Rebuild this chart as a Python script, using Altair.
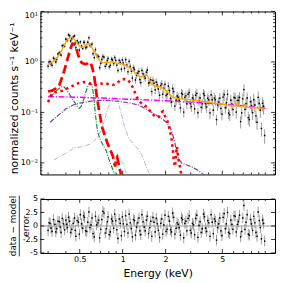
import altair as alt
import pandas as pd

# ---------------- data ----------------
# spectrum bins, set A
energy = [0.300, 0.310, 0.320, 0.335, 0.345, 0.360, 0.370, 0.385, 0.400, 0.410,
          0.425, 0.440, 0.460, 0.470, 0.490, 0.505, 0.525, 0.540, 0.560, 0.580,
          0.600, 0.620, 0.645, 0.670, 0.690, 0.715, 0.740, 0.770, 0.790, 0.820,
          0.850, 0.880, 0.910, 0.945, 0.980, 1.010, 1.050, 1.090, 1.130, 1.170,
          1.210, 1.250, 1.300, 1.340, 1.390, 1.440, 1.490, 1.550, 1.600, 1.660,
          1.720, 1.780, 1.850, 1.910, 1.980, 2.050, 2.130, 2.200, 2.280, 2.370,
          2.450, 2.540, 2.630, 2.730, 2.820, 2.930, 3.030, 3.140, 3.250, 3.370,
          3.490, 3.620, 3.750, 3.880, 4.020, 4.170, 4.320, 4.470, 4.630, 4.800,
          4.970, 5.150, 5.340, 5.530, 5.730, 5.930, 6.150, 6.370, 6.600, 6.830,
          7.080, 7.330, 7.600, 7.870, 8.150, 8.450, 8.750, 9.070, 9.390, 9.730]

counts = [0.83, 1.01, 0.86, 1.14, 1.13, 1.53, 1.37, 2.10, 2.83, 2.70,
          3.32, 2.88, 3.30, 1.93, 2.38, 2.50, 1.86, 2.44, 1.98, 3.02,
          2.15, 1.46, 1.76, 1.29, 0.77, 1.12, 1.25, 0.91, 1.18, 0.86,
          1.10, 1.23, 0.87, 1.08, 0.72, 0.95, 1.11, 0.64, 0.82, 0.48,
          0.71, 0.55, 0.65, 0.39, 0.58, 0.48, 0.69, 0.40, 0.26, 0.38,
          0.40, 0.29, 0.34, 0.23, 0.36, 0.23, 0.27, 0.16, 0.26, 0.175,
          0.20, 0.123, 0.228, 0.20, 0.148, 0.247, 0.131, 0.182, 0.22, 0.099,
          0.194, 0.149, 0.218, 0.129, 0.178, 0.223, 0.111, 0.179, 0.141, 0.192,
          0.093, 0.225, 0.155, 0.097, 0.175, 0.115, 0.193, 0.172, 0.198, 0.098,
          0.283, 0.150, 0.079, 0.163, 0.099, 0.141, 0.064, 0.151, 0.048, 0.133]

residuals = [-0.8, 0.5, -1.0, 0.3, -0.5, 0.8, -1.2, 0.4, 1.1, -0.3,
             0.9, -0.6, 1.5, -1.9, 0.7, 2.1, -0.4, 1.6, -1.0, 2.6,
             0.2, -1.4, 1.8, 0.6, -2.2, 1.2, 2.4, -0.5, 1.7, -1.1,
             0.9, 2.2, -0.7, 1.3, -1.8, 0.4, 1.9, -1.3, 0.6, -2.0,
             1.0, -0.2, 1.5, -1.6, 0.8, -0.9, 1.8, -0.3, -1.9, 0.7,
             1.4, -0.8, 0.5, -1.5, 2.0, -0.6, 0.9, -1.1, 1.6, -0.4,
             0.3, -1.7, 1.2, 0.5, -0.9, 1.9, -1.3, 0.2, 1.4, -2.1,
             0.8, -0.5, 1.7, -1.0, 0.6, 2.1, -1.4, 0.9, -0.3, 1.5,
             -1.8, 2.3, 0.4, -1.2, 1.1, -0.6, 1.8, 0.3, 2.0, -1.0,
             3.8, 0.7, -1.5, 1.2, -0.8, 0.6, -1.9, 1.0, -2.4, 0.5]

# spectrum bins, set B (the bins lying between those of set A)
energy_b = [0.305, 0.315, 0.327, 0.340, 0.352, 0.365, 0.377, 0.392, 0.405, 0.417,
            0.432, 0.450, 0.465, 0.480, 0.497, 0.515, 0.532, 0.550, 0.570, 0.590,
            0.610, 0.632, 0.657, 0.680, 0.702, 0.727, 0.755, 0.780, 0.805, 0.835,
            0.865, 0.895, 0.927, 0.962, 0.995, 1.030, 1.070, 1.110, 1.150, 1.190,
            1.230, 1.275, 1.320, 1.365, 1.415, 1.465, 1.520, 1.575, 1.630, 1.690,
            1.750, 1.815, 1.880, 1.945, 2.015, 2.090, 2.165, 2.240, 2.325, 2.410,
            2.495, 2.585, 2.680, 2.775, 2.875, 2.980, 3.085, 3.195, 3.310, 3.430,
            3.555, 3.685, 3.815, 3.950, 4.095, 4.245, 4.395, 4.550, 4.715, 4.885,
            5.060, 5.245, 5.435, 5.630, 5.830, 6.040, 6.260, 6.485, 6.715, 6.955,
            7.205, 7.465, 7.735, 8.010, 8.300, 8.600, 8.910, 9.230, 9.560, 9.900]

counts_b = [1.00, 0.92, 1.19, 1.00, 1.44, 1.46, 2.10, 2.06, 2.75, 3.46,
            2.61, 3.13, 2.40, 2.63, 1.72, 2.06, 2.46, 1.92, 2.47, 2.12,
            2.27, 1.22, 1.35, 1.27, 0.94, 1.29, 0.82, 1.07, 0.80, 1.14,
            0.93, 1.08, 0.68, 0.98, 1.10, 0.75, 0.87, 1.03, 0.66, 0.77,
            0.44, 0.60, 0.45, 0.68, 0.52, 0.63, 0.38, 0.44, 0.43, 0.28,
            0.35, 0.22, 0.37, 0.30, 0.216, 0.333, 0.189, 0.296, 0.134, 0.212,
            0.176, 0.240, 0.102, 0.214, 0.230, 0.150, 0.194, 0.118, 0.239, 0.172,
            0.126, 0.236, 0.149, 0.192, 0.098, 0.178, 0.193, 0.072, 0.161, 0.121,
            0.202, 0.124, 0.228, 0.090, 0.146, 0.198, 0.102, 0.174, 0.066, 0.186,
            0.115, 0.194, 0.072, 0.137, 0.179, 0.086, 0.200, 0.111, 0.152, 0.035]

residuals_b = [0.6, -0.4, 1.2, -1.1, 0.9, -0.2, 1.4, -0.7, 0.3, 1.6,
               -1.2, 0.5, -0.8, 1.0, -1.5, 0.4, 1.9, -0.9, 0.7, -0.3,
               1.5, -2.0, 0.2, 1.1, -0.6, 2.7, -1.3, 0.8, -1.6, 1.3,
               -0.4, 1.0, -2.3, 0.5, 1.7, -1.0, 0.3, 2.2, -0.5, 1.2,
               -1.7, 0.6, -0.9, 2.1, -0.2, 1.1, -1.4, 0.9, 1.6, -1.1,
               0.4, -2.1, 1.3, 0.2, -1.0, 1.8, -0.7, 2.4, -1.5, 0.6,
               -0.3, 1.5, -2.2, 0.9, 1.4, -0.8, 0.5, -1.6, 2.0, 0.1,
               -1.2, 2.2, -0.4, 1.0, -1.9, 0.7, 1.3, -2.6, 0.4, -0.9,
               1.6, -0.5, 2.5, -1.4, 0.3, 1.9, -1.1, 0.8, -2.0, 1.5,
               -0.6, 2.1, -1.7, 0.4, 1.8, -1.2, 2.6, -0.3, 1.1, -2.8]

# fractional 1-sigma errors (same for the neighbouring bins of both sets)
rel_err = [0.12, 0.12, 0.12, 0.11, 0.11, 0.10, 0.10, 0.09, 0.09, 0.09,
           0.09, 0.09, 0.09, 0.10, 0.10, 0.10, 0.10, 0.10, 0.10, 0.10,
           0.10, 0.11, 0.11, 0.12, 0.12, 0.12, 0.12, 0.12, 0.12, 0.12,
           0.12, 0.12, 0.12, 0.12, 0.13, 0.13, 0.14, 0.14, 0.14, 0.15,
           0.15, 0.15, 0.16, 0.16, 0.16, 0.16, 0.16, 0.17, 0.18, 0.18,
           0.18, 0.18, 0.19, 0.19, 0.19, 0.20, 0.20, 0.21, 0.21, 0.21,
           0.21, 0.22, 0.22, 0.22, 0.22, 0.22, 0.22, 0.23, 0.23, 0.23,
           0.23, 0.23, 0.23, 0.24, 0.24, 0.24, 0.24, 0.24, 0.24, 0.25,
           0.25, 0.25, 0.25, 0.25, 0.26, 0.26, 0.26, 0.26, 0.27, 0.27,
           0.27, 0.28, 0.28, 0.28, 0.29, 0.29, 0.30, 0.30, 0.31, 0.32]

# total model (orange), on the set-A energies
model_total = [0.92, 0.95, 0.98, 1.10, 1.20, 1.40, 1.60, 2.00, 2.50, 2.80,
               3.00, 3.10, 2.80, 2.50, 2.20, 2.00, 1.95, 2.05, 2.25, 2.30,
               2.10, 1.75, 1.45, 1.20, 1.05, 0.98, 0.97, 0.97, 0.98, 0.99,
               0.99, 0.97, 0.95, 0.93, 0.92, 0.90, 0.86, 0.80, 0.75, 0.68,
               0.62, 0.57, 0.53, 0.51, 0.52, 0.55, 0.54, 0.42, 0.36, 0.34,
               0.33, 0.33, 0.32, 0.30, 0.28, 0.26, 0.23, 0.21, 0.195, 0.19,
               0.188, 0.186, 0.184, 0.182, 0.180, 0.179, 0.177, 0.175, 0.172, 0.170,
               0.167, 0.165, 0.163, 0.161, 0.159, 0.157, 0.154, 0.152, 0.150, 0.148,
               0.145, 0.143, 0.141, 0.139, 0.137, 0.135, 0.133, 0.160, 0.132, 0.130,
               0.145, 0.128, 0.126, 0.125, 0.124, 0.123, 0.122, 0.121, 0.120, 0.118]

red_dash_e = [0.30, 0.32, 0.34, 0.36, 0.375, 0.39, 0.405, 0.42, 0.435, 0.445,
              0.455, 0.47, 0.485, 0.50, 0.515, 0.53, 0.55, 0.565, 0.58, 0.595,
              0.61, 0.63, 0.645, 0.66, 0.68, 0.70, 0.72, 0.75, 0.78, 0.82,
              0.85, 0.87, 0.885, 0.90, 0.915, 0.93, 0.95, 0.97, 0.99]
red_dash_v = [0.26, 0.27, 0.30, 0.35, 0.48, 0.68, 1.0, 1.43, 2.0, 2.3,
              2.25, 2.0, 1.45, 1.1, 0.97, 0.93, 0.91, 0.93, 0.98, 0.97,
              0.8, 0.55, 0.33, 0.2, 0.12, 0.075, 0.05, 0.035, 0.025, 0.018,
              0.014, 0.011, 0.0085, 0.012, 0.013, 0.0105, 0.008, 0.0062, 0.005]

red_dot_e = [0.30, 0.32, 0.35, 0.38, 0.41, 0.45, 0.49, 0.53, 0.57, 0.61,
             0.65, 0.70, 0.75, 0.80, 0.86, 0.92, 0.97, 1.03, 1.09, 1.15,
             1.21, 1.27, 1.33, 1.40, 1.50, 1.58, 1.66, 1.74, 1.80, 1.86,
             1.92, 1.98, 2.05, 2.10, 2.16, 2.20, 2.25, 2.28, 2.33, 2.37,
             2.40, 2.43, 2.47, 2.52, 2.56, 2.60]
red_dot_v = [0.16, 0.24, 0.26, 0.27, 0.30, 0.34, 0.38, 0.40, 0.39, 0.36,
             0.345, 0.37, 0.38, 0.36, 0.35, 0.39, 0.44, 0.46, 0.44, 0.36,
             0.26, 0.19, 0.16, 0.14, 0.125, 0.10, 0.087, 0.08, 0.082, 0.10,
             0.105, 0.085, 0.07, 0.055, 0.04, 0.03, 0.018, 0.011, 0.0085, 0.015,
             0.021, 0.016, 0.011, 0.0085, 0.0065, 0.005]

green_e = [0.31, 0.33, 0.35, 0.37, 0.385, 0.40, 0.42, 0.44, 0.46, 0.48,
           0.495, 0.51, 0.53, 0.55, 0.57, 0.59, 0.61, 0.625, 0.64, 0.655,
           0.67, 0.69, 0.71, 0.74, 0.77, 0.80, 0.83, 0.86, 0.88]
green_v = [0.20, 0.24, 0.28, 0.32, 0.33, 0.29, 0.24, 0.19, 0.16, 0.13,
           0.12, 0.13, 0.17, 0.25, 0.33, 0.38, 0.35, 0.22, 0.11, 0.06,
           0.04, 0.031, 0.026, 0.021, 0.017, 0.012, 0.009, 0.007, 0.0055]

lgreen_e = [0.86, 0.90, 0.94, 0.98, 1.01, 1.04, 1.07]
lgreen_v = [0.0055, 0.0072, 0.0095, 0.0112, 0.0095, 0.0072, 0.0055]

purple_e = [0.31, 0.34, 0.37, 0.40, 0.45, 0.51, 0.60, 0.70, 0.80,
            0.95, 1.10, 1.30, 1.50, 1.70, 1.90, 2.05, 2.15, 2.22, 2.30,
            2.38, 2.47, 2.60, 2.80, 3.00, 3.30, 3.60, 3.80]
purple_v = [0.064, 0.080, 0.097, 0.118, 0.140, 0.155, 0.167, 0.173, 0.172,
            0.165, 0.155, 0.140, 0.112, 0.090, 0.074, 0.062, 0.050, 0.040, 0.028,
            0.018, 0.012, 0.0098, 0.0092, 0.0085, 0.0074, 0.0062, 0.0055]

lpurple_e = [0.33, 0.37, 0.42, 0.46, 0.50, 0.55, 0.60, 0.65, 0.70, 0.74,
             0.78, 0.82, 0.86, 0.89, 0.92, 0.96, 1.00, 1.04, 1.10, 1.18,
             1.26, 1.33, 1.40, 1.46, 1.52, 1.58]
lpurple_v = [0.0115, 0.0135, 0.017, 0.020, 0.0205, 0.022, 0.024, 0.030, 0.042, 0.065,
             0.11, 0.16, 0.205, 0.21, 0.175, 0.115, 0.072, 0.048, 0.032, 0.024,
             0.020, 0.016, 0.012, 0.0085, 0.0065, 0.0055]

magenta_e = [0.30, 0.50, 0.80, 1.00, 1.50, 2.00, 3.00, 5.00, 7.00, 10.0]
magenta_v = [0.206, 0.199, 0.190, 0.185, 0.177, 0.170, 0.160, 0.146, 0.135, 0.121]

# tick positions / labels
x_major = [0.5, 1, 2, 5]
x_minor = [0.3, 0.4, 0.6, 0.7, 0.8, 0.9, 3, 4, 6, 7, 8, 9, 10]
y_major = [0.01, 0.1, 1, 10]
y_minor = [0.006, 0.007, 0.008, 0.009,
           0.02, 0.03, 0.04, 0.05, 0.06, 0.07, 0.08, 0.09,
           0.2, 0.3, 0.4, 0.5, 0.6, 0.7, 0.8, 0.9,
           2, 3, 4, 5, 6, 7, 8, 9]
r_major = [-5, -2.5, 0, 2.5, 5]
res_title = ["data − model", "error"]

# ---------------- layout ----------------
W, H1, H2 = 239, 166, 55
FONT = "DejaVu Sans"

xs = alt.Scale(type="log", domain=[0.265, 11.7])
ys = alt.Scale(type="log", domain=[0.0059, 10])
rs = alt.Scale(domain=[-5, 5])

y_axis_top = alt.Axis(
    values=y_major,
    labelExpr="datum.value > 5 ? '10¹' : datum.value > 0.5 ? '10⁰' : datum.value > 0.05 ? '10⁻¹' : '10⁻²'",
    ticks=False, domain=False, grid=False, labelFontSize=8, labelPadding=3,
    labelFlush=True,
    title="normalized counts s⁻¹ keV⁻¹", titleFontSize=11, titleFontWeight="normal",
    titleX=-26, titleY=88, titleAngle=270, titleBaseline="middle", titleAlign="center",
)
y_axis_bot = alt.Axis(
    values=r_major,
    labelExpr="datum.value < 0 ? '-' + format(-datum.value, '') : format(datum.value, '')",
    ticks=False, domain=False, grid=False, labelFontSize=8, labelPadding=3,
    labelFlush=False, title=None,
)
x_axis_bot = alt.Axis(
    values=x_major, format="~g", ticks=False, domain=False, grid=False,
    labelFontSize=8, labelPadding=3, labelFlush=False,
    title="Energy (keV)", titleFontSize=11, titleFontWeight="normal", titlePadding=4,
)

spec = pd.concat([
    pd.DataFrame({"E": energy, "C": counts, "rel": rel_err, "R": residuals}),
    pd.DataFrame({"E": energy_b, "C": counts_b, "rel": rel_err, "R": residuals_b}),
], ignore_index=True)
spec["lo"] = spec["C"] * (1 - spec["rel"])
spec["hi"] = spec["C"] * (1 + spec["rel"])
spec["rlo"] = spec["R"] - 1
spec["rhi"] = spec["R"] + 1

model_df = pd.DataFrame({"E": energy, "M": model_total})

X_top = alt.X("E:Q", scale=xs, axis=None)


def comp(es, vs, color, width, dash=None):
    df = pd.DataFrame({"E": es, "V": vs})
    kw = dict(color=color, strokeWidth=width, clip=True)
    if dash is not None:
        kw["strokeDash"] = dash
    return alt.Chart(df).mark_line(**kw).encode(
        x=X_top, y=alt.Y("V:Q", scale=ys, axis=y_axis_top))


def hticks(vals, scale, axis, length, width):
    df = pd.DataFrame({"v": vals})
    base = alt.Chart(df).mark_rule(color="black", strokeWidth=0.8)
    return [
        base.encode(y=alt.Y("v:Q", scale=scale, axis=axis), x=alt.value(0), x2=alt.value(length)),
        base.encode(y=alt.Y("v:Q", scale=scale, axis=axis), x=alt.value(width - length), x2=alt.value(width)),
    ]


def vticks(vals, xaxis, length, height):
    df = pd.DataFrame({"v": vals})
    base = alt.Chart(df).mark_rule(color="black", strokeWidth=0.8)
    return [
        base.encode(x=alt.X("v:Q", scale=xs, axis=xaxis), y=alt.value(height - length), y2=alt.value(height)),
        base.encode(x=alt.X("v:Q", scale=xs, axis=xaxis), y=alt.value(0), y2=alt.value(length)),
    ]


base_top = alt.Chart(spec)
err_top = base_top.mark_rule(color="#9a9a9a", strokeWidth=1, clip=True).encode(
    x=X_top, y=alt.Y("lo:Q", scale=ys, axis=y_axis_top), y2="hi:Q")
pts_top = base_top.mark_circle(color="black", size=3, opacity=1, clip=True).encode(
    x=X_top, y=alt.Y("C:Q", scale=ys, axis=y_axis_top))
orange = alt.Chart(model_df).mark_line(color="#ffa500", strokeWidth=1.4, clip=True).encode(
    x=X_top, y=alt.Y("M:Q", scale=ys, axis=y_axis_top))

top_layers = [
    err_top, pts_top,
    comp(lpurple_e, lpurple_v, "#c9a9dd", 1, [5, 1.5, 1, 1.5]),
    comp(purple_e, purple_v, "#7b3aa8", 1.2, [5, 1.5, 1, 1.5]),
    comp(lgreen_e, lgreen_v, "#90ee90", 1, [5, 1.5, 1, 1.5]),
    comp(green_e, green_v, "#1a8a3a", 1.2, [5, 1.5, 1, 1.5]),
    comp(magenta_e, magenta_v, "#ff00ff", 1.5, [6, 1.8, 1.2, 1.8]),
    comp(red_dot_e, red_dot_v, "#ff0000", 2.6, [2.6, 3.6]),
    comp(red_dash_e, red_dash_v, "#ff0000", 2.8, [9, 4]),
    orange,
]
top_layers += hticks(y_major, ys, y_axis_top, 4, W)
top_layers += hticks(y_minor, ys, y_axis_top, 2, W)
top_layers += vticks(x_major, None, 4, H1)
top_layers += vticks(x_minor, None, 2, H1)

top = alt.layer(*top_layers).properties(width=W, height=H1)

# ---------------- residual panel ----------------
X_bot = alt.X("E:Q", scale=xs, axis=x_axis_bot)
base_bot = alt.Chart(spec)
zero = alt.Chart(pd.DataFrame({"z": [0]})).mark_rule(color="#808080", strokeWidth=0.8).encode(
    y=alt.Y("z:Q", scale=rs, axis=y_axis_bot), x=alt.value(0), x2=alt.value(W))
err_bot = base_bot.mark_rule(color="#9a9a9a", strokeWidth=1, clip=True).encode(
    x=X_bot, y=alt.Y("rlo:Q", scale=rs, axis=y_axis_bot), y2="rhi:Q")
pts_bot = base_bot.mark_circle(color="black", size=3, opacity=1, clip=True).encode(
    x=X_bot, y=alt.Y("R:Q", scale=rs, axis=y_axis_bot))

title_df = pd.DataFrame({"t": res_title})
num = alt.Chart(title_df.iloc[[0]]).mark_text(
    font=FONT, fontSize=9, angle=270, align="center", baseline="middle", color="black"
).encode(text="t:N", x=alt.value(-28), y=alt.value(H2 / 2))
den = alt.Chart(title_df.iloc[[1]]).mark_text(
    font=FONT, fontSize=9, angle=270, align="center", baseline="middle", color="black"
).encode(text="t:N", x=alt.value(-15), y=alt.value(H2 / 2))
frac = alt.Chart(pd.DataFrame({"a": [0]})).mark_rule(color="black", strokeWidth=0.8).encode(
    x=alt.value(-21.5), y=alt.value(H2 / 2 - 31), y2=alt.value(H2 / 2 + 31))

bot_layers = [zero, err_bot, pts_bot, num, den, frac]
bot_layers += hticks(r_major, rs, y_axis_bot, 4, W)
bot_layers += vticks(x_major, x_axis_bot, 4, H2)
bot_layers += vticks(x_minor, x_axis_bot, 2, H2)

bottom = alt.layer(*bot_layers).properties(width=W, height=H2)

chart = alt.vconcat(top, bottom, spacing=19).properties(
    padding={"left": 0, "top": 0, "right": 0, "bottom": 0}
).configure(background="white").configure_view(
    stroke="black", strokeWidth=1
).configure_axis(
    labelFont=FONT, titleFont=FONT, labelColor="black", titleColor="black"
)

chart.save("out.html", embed_options={"renderer": "svg", "actions": False})
